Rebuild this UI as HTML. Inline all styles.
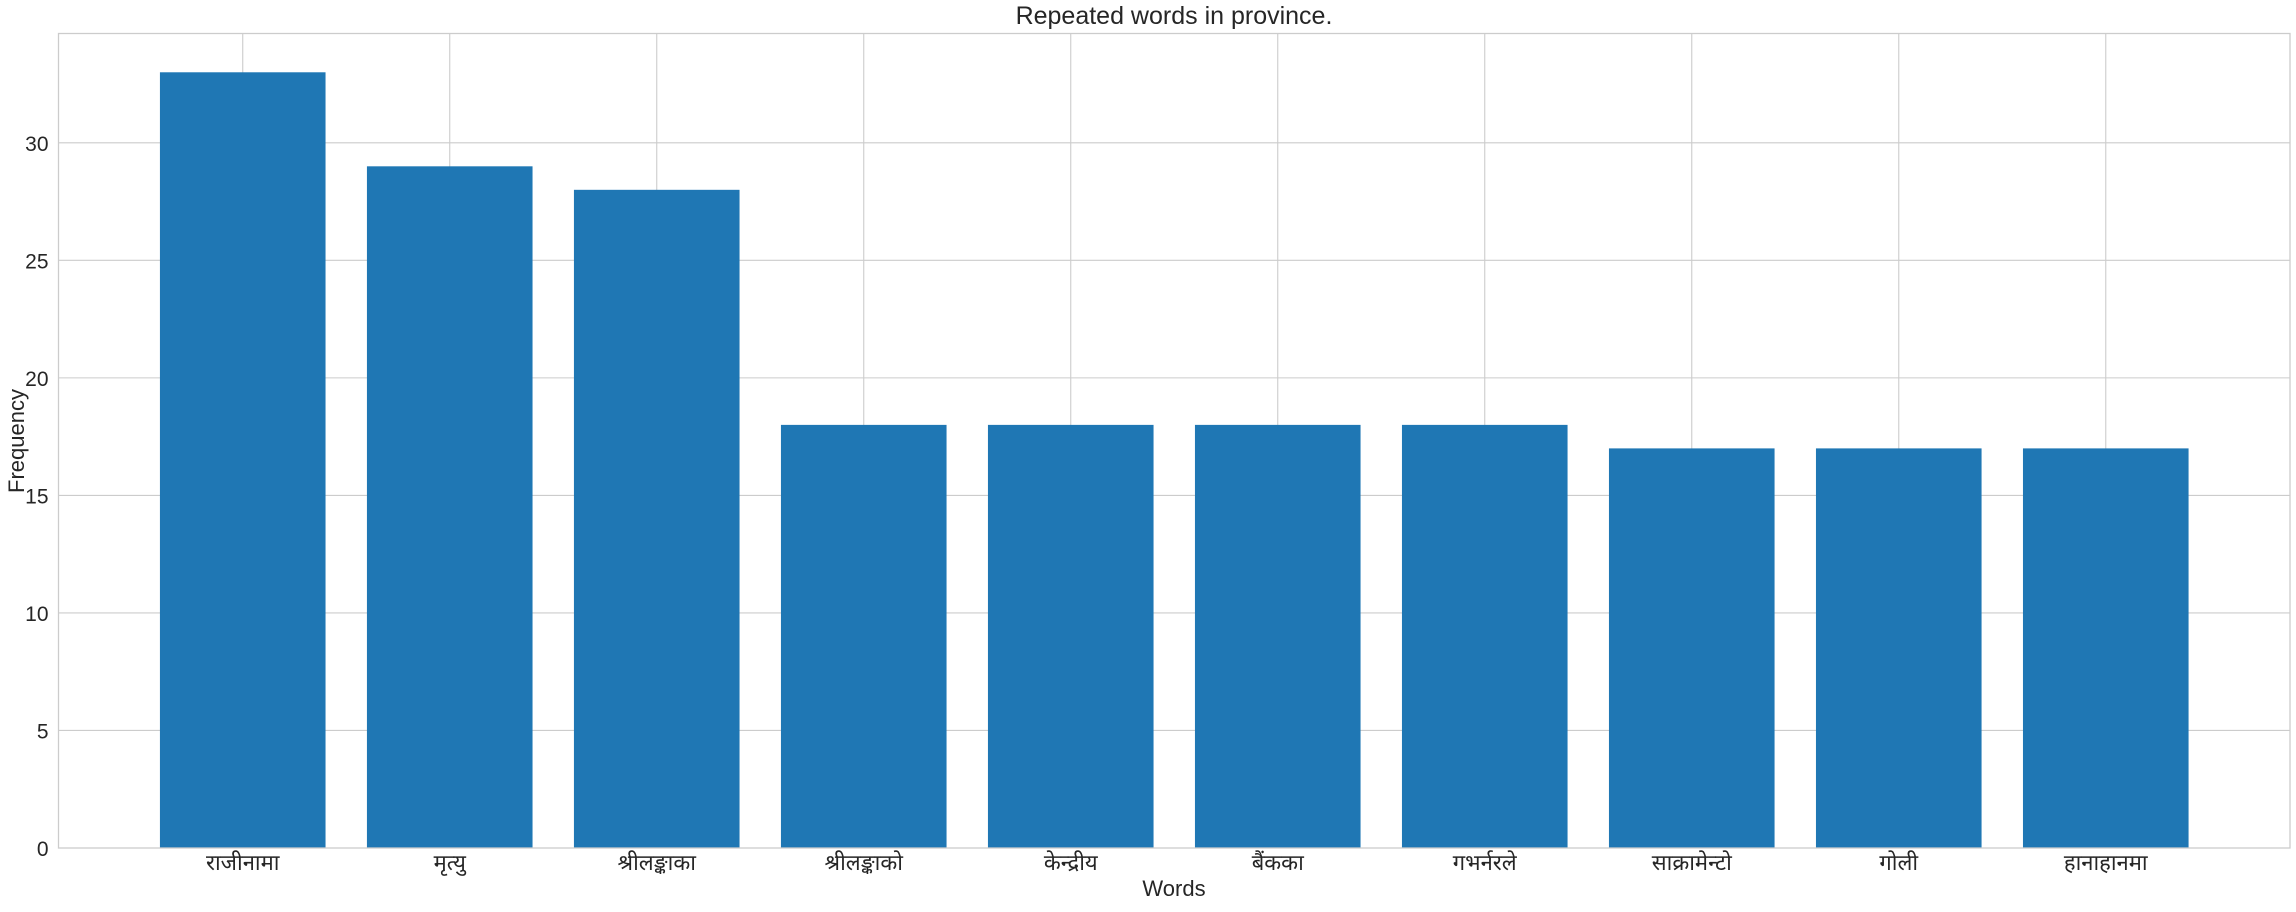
<!DOCTYPE html>
<html><head><meta charset="utf-8"><style>
body{margin:0;background:#fff;}
svg text{font-family:"Liberation Sans","Noto Sans CJK SC",sans-serif;fill:#262626;}
</style></head><body>
<svg id="chart" width="2296" height="907" xmlns="http://www.w3.org/2000/svg">
<g id="grid"></g>
<g id="bars"></g>
<rect x="58.5" y="33.5" width="2231.5" height="814.5" fill="none" stroke="#cccccc" stroke-width="1.3"/>
<g id="yticks"></g>
<g id="xticks"></g>
<text x="1174" y="24" font-size="25" text-anchor="middle">Repeated words in province.</text>
<text x="1174" y="896" font-size="22" text-anchor="middle">Words</text>
<text transform="translate(24,441) rotate(-90)" font-size="22" text-anchor="middle">Frequency</text>
</svg>
<script>
const categories = ["राजीनामा","मृत्यु","श्रीलङ्काका","श्रीलङ्काको","केन्द्रीय","बैंकका","गभर्नरले","साक्रामेन्टो","गोली","हानाहानमा"];
const values = [33,29,28,18,18,18,18,17,17,17];
const yTicks = [0,5,10,15,20,25,30];
const NS="http://www.w3.org/2000/svg";
const L=58.5,R=2290,T=33.5,B=848;
const xmin=-0.89,xmax=categories.length-1+0.89;
const ymax=Math.max(...values)*1.05;
const xs=v=>L+(v-xmin)/(xmax-xmin)*(R-L);
const ys=v=>B-v/ymax*(B-T);
function mk(tag,attrs,parent){const e=document.createElementNS(NS,tag);for(const k in attrs)e.setAttribute(k,attrs[k]);parent.appendChild(e);return e;}
const grid=document.getElementById('grid'),bars=document.getElementById('bars'),yt=document.getElementById('yticks'),xt=document.getElementById('xticks');
yTicks.forEach(t=>{
  const l=mk('line',{x1:L,x2:R,y1:ys(t),y2:ys(t),stroke:'#cccccc','stroke-width':1.1},grid);
  
  
  const tx=mk('text',{x:L-10,y:ys(t)+8,'font-size':21,'text-anchor':'end'},yt);
  tx.textContent=t;
  
  
});
categories.forEach((c,i)=>{
  const l=mk('line',{x1:xs(i),x2:xs(i),y1:T,y2:B,stroke:'#cccccc','stroke-width':1.1},grid);
  
  
  const r=mk('rect',{x:xs(i-0.4),y:ys(values[i]),width:xs(i+0.4)-xs(i-0.4),height:B-ys(values[i]),fill:'#1f77b4'},bars);
  
  
  const tx=mk('text',{x:xs(i),y:870,'font-size':22,'text-anchor':'middle'},xt);
  tx.textContent=c;
  
  
});
</script>
</body></html>
